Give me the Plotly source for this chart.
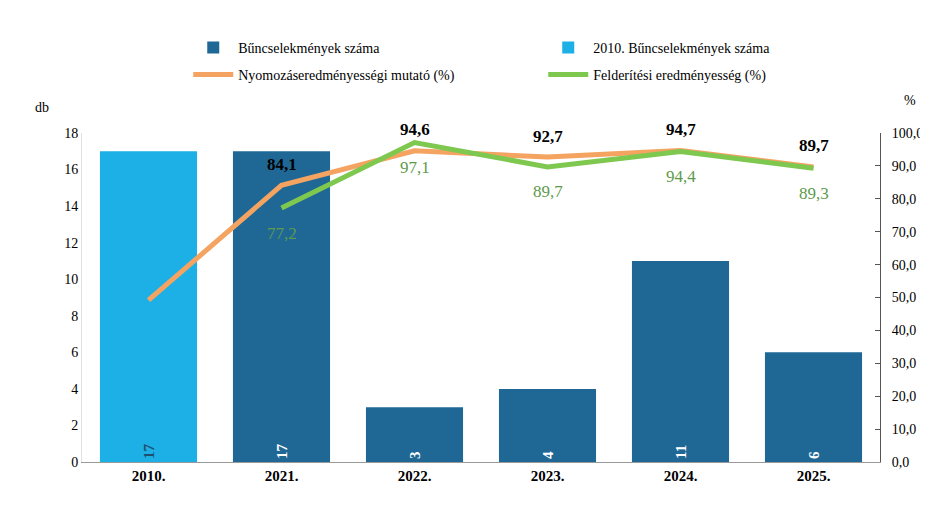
import plotly.graph_objects as go

years = ["2010.", "2021.", "2022.", "2023.", "2024.", "2025."]
crimes = [None, 17, 3, 4, 11, 6]
crimes_2010 = [17, None, None, None, None, None]
nyomozas = [49.2, 84.1, 94.6, 92.7, 94.7, 89.7]
nyomozas_labels = ["", "84,1", "94,6", "92,7", "94,7", "89,7"]
felderites = [None, 77.2, 97.1, 89.7, 94.4, 89.3]
felderites_labels = ["", "77,2", "97,1", "89,7", "94,4", "89,3"]

SERIF = "Liberation Serif"

fig = go.Figure()
fig.add_trace(go.Bar(
    x=years, y=crimes, name="Bűncselekmények száma",
    marker=dict(color="#1f6896", line=dict(width=0)),
    text=[("" if v is None else str(v)) for v in crimes],
    textposition="inside", insidetextanchor="start", textangle=-90,
    textfont=dict(color="white", size=15, family=SERIF, weight="bold"),
    width=0.73, legend="legend",
))
fig.add_trace(go.Bar(
    x=years, y=crimes_2010, name="2010. Bűncselekmények száma",
    marker=dict(color="#1cb0e6", line=dict(width=0)),
    text=[("" if v is None else str(v)) for v in crimes_2010],
    textposition="inside", insidetextanchor="start", textangle=-90,
    textfont=dict(color="#1f4f6e", size=15, family=SERIF, weight="bold"),
    width=0.73, legend="legend",
))
fig.add_trace(go.Scatter(
    x=years, y=nyomozas, name="Nyomozáseredményességi mutató (%)",
    yaxis="y2", mode="lines",
    line=dict(color="#f4a361", width=5), legend="legend2",
))
fig.add_trace(go.Scatter(
    x=years, y=felderites, name="Felderítési eredményesség (%)",
    yaxis="y2", mode="lines",
    line=dict(color="#7ec850", width=5), legend="legend2",
))

annotations = []
for i, (y, t) in enumerate(zip(nyomozas, nyomozas_labels)):
    if t:
        annotations.append(dict(x=i, y=y, xref="x", yref="y2", text=t, showarrow=False,
                                yshift=21, font=dict(family=SERIF, size=17, color="black", weight="bold")))
for i, (y, t) in enumerate(zip(felderites, felderites_labels)):
    if t and y is not None:
        annotations.append(dict(x=i, y=y, xref="x", yref="y2", text=t, showarrow=False,
                                yshift=-25, font=dict(family=SERIF, size=17, color="#5e9a4c")))
annotations.append(dict(text="db", xref="paper", yref="paper", x=-0.05, y=1.076,
                        showarrow=False, font=dict(family=SERIF, size=14),
                        xanchor="center", yanchor="middle"))
annotations.append(dict(text="%", xref="paper", yref="paper", x=1.0376, y=1.10,
                        showarrow=False, font=dict(family=SERIF, size=14),
                        xanchor="center", yanchor="middle"))

leg_common = dict(
    orientation="h", xanchor="center", yanchor="middle", yref="container",
    entrywidth=300, entrywidthmode="pixels",
    font=dict(family=SERIF, size=14, color="black"),
    itemwidth=40, traceorder="normal", bgcolor="rgba(0,0,0,0)",
)

fig.update_layout(
    width=920, height=503,
    margin=dict(l=74, r=48, t=125, b=49, autoexpand=False),
    paper_bgcolor="white", plot_bgcolor="white",
    separators=",.",
    barmode="overlay",
    font=dict(family=SERIF, size=14, color="black"),
    showlegend=True,
    legend=dict(leg_common, x=0.578, y=1 - 40 / 503),
    legend2=dict(leg_common, x=0.578, y=1 - 67 / 503),
    xaxis=dict(
        type="category", range=[-0.5, 5.5], showgrid=False,
        showline=True, linecolor="#999999", linewidth=1,
        ticks="", tickfont=dict(family=SERIF, size=15, color="black", weight="bold"),
    ),
    yaxis=dict(
        range=[0, 18], dtick=2, showgrid=False, zeroline=False,
        showline=True, linecolor="#e0e0e0", linewidth=1,
        ticks="", tickfont=dict(family=SERIF, size=14, color="black"),
    ),
    yaxis2=dict(
        range=[0, 100], dtick=10, overlaying="y", side="right",
        showgrid=False, zeroline=False, tickformat=".1f",
        showline=True, linecolor="#555555", linewidth=1,
        ticks="inside", ticklen=5, tickcolor="#555555",
        tickfont=dict(family=SERIF, size=14, color="black"),
        ticklabelstandoff=8,
    ),
    annotations=annotations,
)

fig.write_html("out.html")
